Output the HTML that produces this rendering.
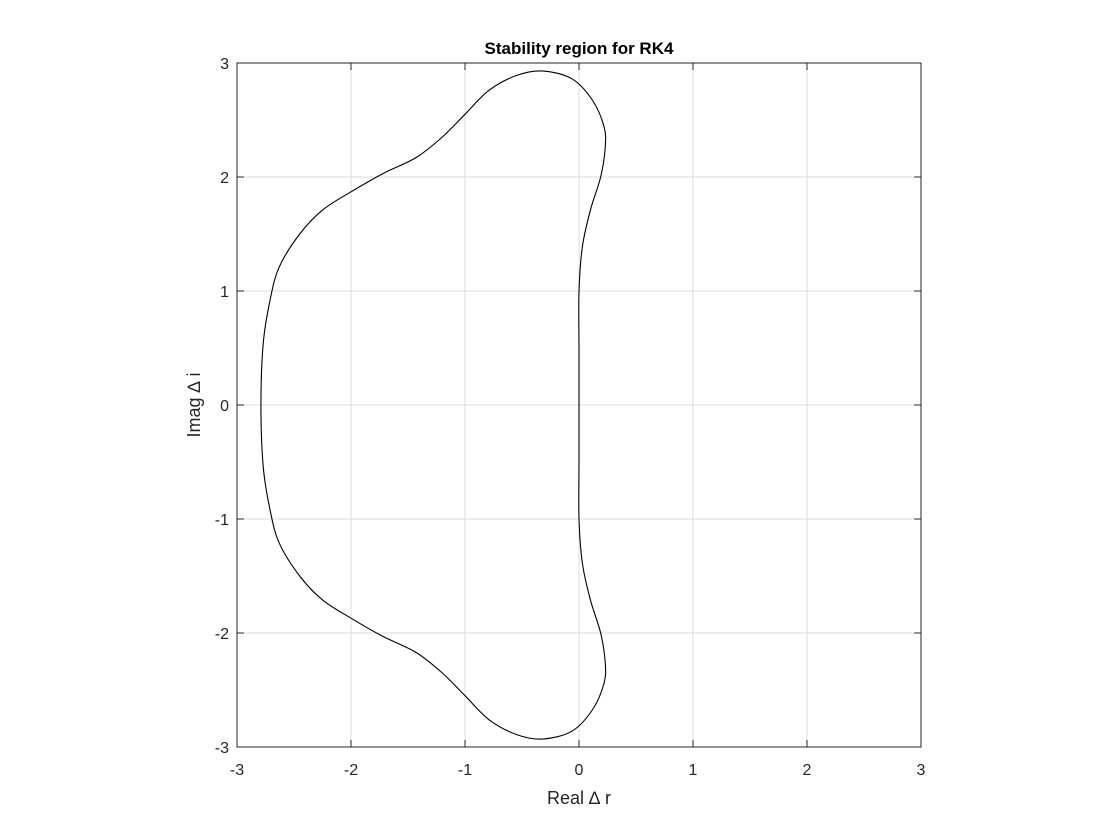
<!DOCTYPE html>
<html><head><meta charset="utf-8"><style>
body{margin:0;background:#fff;}
svg{display:block;font-family:"Liberation Sans",sans-serif;}
</style></head><body>
<svg id="chart" width="1120" height="840" viewBox="0 0 1120 840"></svg>
<script>
const xTicks=[-3,-2,-1,0,1,2,3];
const yTicks=[-3,-2,-1,0,1,2,3];
const upperX=[-2.79,-2.77,-2.71,-2.63,-2.45,-2.25,-2.0,-1.72,-1.43,-1.20,-1.0,-0.79,-0.55,-0.32,-0.06,0.12,0.22,0.23,0.19,0.10,0.03,0.0,0.0,0.0];
const upperY=[0,0.54,0.92,1.21,1.50,1.71,1.87,2.03,2.17,2.35,2.55,2.76,2.89,2.93,2.86,2.67,2.44,2.26,2.0,1.71,1.39,1.0,0.5,0];
const lowerX=[0.0,0.0,0.03,0.10,0.19,0.23,0.22,0.12,-0.06,-0.32,-0.55,-0.79,-1.0,-1.20,-1.43,-1.72,-2.0,-2.25,-2.45,-2.63,-2.71,-2.77,-2.79];
const lowerY=[-0.5,-1.0,-1.39,-1.71,-2.0,-2.26,-2.44,-2.67,-2.86,-2.93,-2.89,-2.76,-2.55,-2.35,-2.17,-2.03,-1.87,-1.71,-1.50,-1.21,-0.92,-0.54,0];
const NS='http://www.w3.org/2000/svg';
const svg=document.getElementById('chart');
const L=237,R=921,T=63,B=747;
const sx=v=>L+(v+3)/6*(R-L);
const sy=v=>B-(v+3)/6*(B-T);
function mk(tag,attrs,parent){const e=document.createElementNS(NS,tag);for(const k in attrs)e.setAttribute(k,attrs[k]);(parent||svg).appendChild(e);return e;}
const grid=mk('g',{});


xTicks.forEach(t=>{mk('line',{x1:sx(t),x2:sx(t),y1:T,y2:B,stroke:'#dcdcdc','stroke-width':1},grid);});
yTicks.forEach(t=>{mk('line',{x1:L,x2:R,y1:sy(t),y2:sy(t),stroke:'#dcdcdc','stroke-width':1},grid);});
const cx=upperX.concat(lowerX), cy=upperY.concat(lowerY);
let pts=cx.map((x,i)=>[sx(x),sy(cy[i])]);
const n=pts.length-1; // last equals first (closed)
let d='M'+pts[0][0]+','+pts[0][1];
const P=i=>pts[((i%n)+n)%n];
for(let i=0;i<n;i++){
  const p0=P(i-1),p1=P(i),p2=P(i+1),p3=P(i+2);
  const c1=[p1[0]+(p2[0]-p0[0])/6,p1[1]+(p2[1]-p0[1])/6];
  const c2=[p2[0]-(p3[0]-p1[0])/6,p2[1]-(p3[1]-p1[1])/6];
  d+=` C${c1[0]},${c1[1]} ${c2[0]},${c2[1]} ${p2[0]},${p2[1]}`;
}
d+='Z';
const curve=mk('path',{d:d,fill:'none',stroke:'#000','stroke-width':1.1});


const box=mk('rect',{x:L,y:T,width:R-L,height:B-T,fill:'none',stroke:'#262626','stroke-width':1});


xTicks.forEach(t=>{
  mk('line',{x1:sx(t),x2:sx(t),y1:B,y2:B-7,stroke:'#262626'});
  mk('line',{x1:sx(t),x2:sx(t),y1:T,y2:T+7,stroke:'#262626'});
  const tx=mk('text',{x:sx(t),y:B+28,'text-anchor':'middle','font-size':16,fill:'#262626'});
  tx.textContent=t;
  
  
});
yTicks.forEach(t=>{
  mk('line',{x1:L,x2:L+7,y1:sy(t),y2:sy(t),stroke:'#262626'});
  mk('line',{x1:R,x2:R-7,y1:sy(t),y2:sy(t),stroke:'#262626'});
  const tx=mk('text',{x:L-8,y:sy(t)+6,'text-anchor':'end','font-size':16,fill:'#262626'});
  tx.textContent=t;
  
  
});
const title=mk('text',{x:579,y:54,'text-anchor':'middle','font-size':17,'font-weight':'bold',fill:'#000'});
title.textContent='Stability region for RK4';


const xl=mk('text',{x:579,y:804,'text-anchor':'middle','font-size':18,fill:'#262626'});
xl.textContent='Real \u2206 r';


const yl=mk('text',{x:0,y:0,'text-anchor':'middle','font-size':18,fill:'#262626',transform:'translate(200,405) rotate(-90)'});
yl.textContent='Imag \u2206 i';


</script>
</body></html>
